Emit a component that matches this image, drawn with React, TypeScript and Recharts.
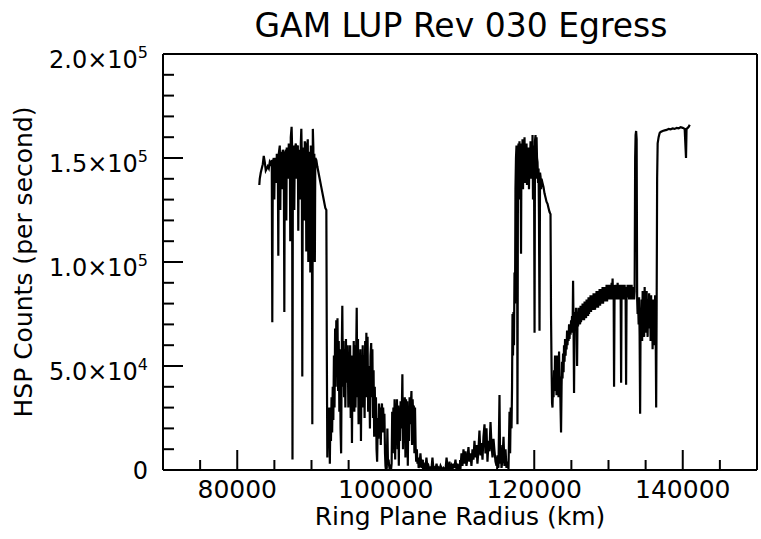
import React from "react";
import { LineChart, Line, XAxis, YAxis, ReferenceLine } from "recharts";

type Pt = [number, number];

// Ring plane radius (km), HSP counts (per second)
const ringInnerA: Pt[] = [
  [82970,137000],[83030,140000],[83170,143000],[83300,145000],[83440,147000],[83570,151000],[83710,148000],[83840,144000],[83980,145000],[84110,146000],[84250,145000],[84380,148000],[84520,147000],[84650,149000],[84720,71000],[84790,148000],[84920,150000],[84990,130000],[85060,150000],[85190,149000],[85260,138000],[85330,152000],[85460,150000],[85530,103000],[85590,152000],[85730,156000],[85800,125000],[85860,153000],[86000,150000],[86070,135000],[86130,154000],[86270,152000],[86340,76000],[86400,150000],[86540,154000],[86610,120000],[86670,155000],[86810,153000],[86880,140000],[86940,157000],[87080,155000],[87140,110000],[87210,160000],[87320,165000],[87390,155000],[87440,5000],[87490,153000],[87620,156000],[87680,125000],[87750,154000],[87890,157000],[87950,140000],[88020,155000],[88160,156000],[88220,115000],[88290,154000],[88430,152000],[88490,130000],[88560,157000],[88630,164000],[88700,150000],[88760,45000],[88830,155000],[88970,152000],[89030,120000],[89100,158000],[89240,155000],[89300,105000],[89370,154000],[89500,159000],[89570,100000],[89640,150000],[89770,153000],[89840,95000],[89910,156000],[90040,152000],[90110,22000],[90180,164000],[90250,155000],[90310,110000],[90380,152000],[90450,100000],[90510,150000],[90650,149000],[90780,146000],[91050,141000],[91320,136000],[91590,131000],[91860,126000],[92000,125000],[92060,60000],[92130,6000]
];

const ringInnerB: Pt[] = [
  [92220,25000],[92300,12000],[92400,30000],[92470,3000],[92530,22000],[92620,14000],[92700,35000],[92780,18000],[92860,40000],[92940,24000],[93020,55000],[93100,30000],[93180,68000],[93260,40000],[93340,72000],[93420,45000],[93500,73000],[93590,38000],[93670,62000],[93750,28000],[93830,58000],[93910,20000],[93990,8000],[94070,55000],[94150,79000],[94230,40000],[94310,62000],[94390,35000],[94480,58000],[94560,30000],[94640,63000],[94720,42000],[94800,58000],[94880,60000],[94960,30000],[95040,56000],[95120,40000],[95200,60000],[95280,25000],[95370,55000],[95450,13000],[95530,50000],[95610,35000],[95690,62000],[95770,28000],[95850,60000],[95930,30000],[96010,55000],[96090,78000],[96170,35000],[96260,63000],[96340,22000],[96420,52000],[96500,40000],[96580,58000],[96660,14000],[96740,50000],[96820,35000],[96900,60000],[96980,30000],[97060,55000],[97150,25000],[97230,62000],[97310,40000],[97390,66000],[97470,35000],[97550,64000],[97630,28000],[97710,50000],[97790,42000],[97870,20000],[97950,55000],[98040,61000],[98120,35000],[98200,58000],[98280,25000],[98360,48000],[98440,16000],[98520,40000],[98600,22000],[98680,35000],[98760,10000],[98840,4000],[98930,25000],[99010,15000],[99090,32000],[99170,20000],[99250,30000],[99330,12000],[99410,28000],[99490,32000],[99570,18000],[99650,30000],[99730,22000],[99820,27000],[99900,8000],[99980,2000],[100060,0],[100140,1000],[100220,20000],[100300,3000],[100380,5000],[100460,2000],[100540,0],[100620,1000],[100710,0],[100790,3000],[100870,28000],[100950,8000],[101030,30000],[101110,15000],[101190,34000],[101270,5000],[101350,32000],[101430,18000],[101510,34000],[101600,10000],[101680,31000],[101760,2000],[101840,30000],[101920,14000],[102000,33000],[102080,20000],[102160,28000],[102240,46000],[102320,10000],[102400,32000],[102490,22000],[102570,35000],[102650,6000],[102730,34000],[102810,18000],[102890,33000],[102970,2000],[103050,30000],[103130,14000],[103210,35000],[103290,22000],[103380,31000],[103460,38000],[103540,12000],[103620,34000],[103700,26000],[103780,31000],[103860,8000],[103940,30000],[104020,12000],[104100,4000],[104190,10000],[104270,3000],[104350,6000],[104430,1000],[104540,2000]
];

const cassiniDivision: Pt[] = [
  [104670,8000],[104810,1000],[104940,5000],[105080,0],[105210,2000],[105350,500],[105480,6000],[105620,1000],[105750,2000],[105890,0],[106020,1000],[106160,500],[106290,6000],[106430,0],[106560,1000],[106700,0],[106840,3000],[106970,0],[107110,1000],[107240,0],[107380,2000],[107510,1000],[107650,0],[107780,1000],[107920,500],[108050,0],[108190,6000],[108320,1000],[108460,0],[108580,4000],[108710,500],[108850,2000],[108980,0],[109120,3000],[109250,1000],[109390,5000],[109520,500],[109660,2000],[109790,1000],[109930,3000],[110060,500],[110200,8000],[110330,2000],[110470,10000],[110600,3000],[110740,9000],[110870,2000],[111010,6000],[111140,11000],[111270,4000],[111410,8000],[111540,2000],[111680,10000],[111810,5000],[111950,14000],[112080,6000],[112220,12000],[112350,3000],[112490,10000],[112620,19000],[112760,7000],[112890,13000],[113030,5000],[113160,16000],[113300,22000],[113430,8000],[113570,20000],[113700,4000],[113840,14000],[113970,9000],[114110,23000],[114240,12000],[114380,6000],[114510,15000],[114650,9000],[114780,4000],[114920,2000],[115050,7000],[115180,1000],[115320,36000],[115400,3000],[115480,12000],[115590,1000],[115720,5000],[115860,16000],[115990,2000],[116130,10000],[116260,1000],[116400,4000],[116530,500],[116670,28000],[116750,8000],[116830,30000],[116940,20000]
];

const ringInnerA2: Pt[] = [
  [117010,40000],[117070,75000],[117140,55000],[117200,76000],[117270,60000],[117340,95000],[117410,80000],[117470,135000],[117540,150000],[117610,156000],[117680,140000],[117740,22000],[117810,150000],[117880,157000],[117950,138000],[118010,158000],[118080,130000],[118150,155000],[118220,104000],[118280,157000],[118350,140000],[118420,159000],[118490,135000],[118550,156000],[118620,145000],[118690,160000],[118750,138000],[118820,154000],[118890,148000],[118960,157000],[119020,137000],[119090,150000],[119160,143000],[119230,155000],[119290,135000],[119360,152000],[119430,148000],[119500,158000],[119560,140000],[119630,157000],[119700,145000],[119770,161000],[119830,130000],[119900,156000],[119970,150000],[120040,66000],[120100,158000],[120170,161000],[120240,140000],[120310,160000],[120370,150000],[120440,148000],[120510,138000],[120580,145000],[120640,120000],[120710,67000],[120780,143000],[120850,141000],[120910,135000],[120980,140000],[121110,138000],[121250,136000],[121380,133000],[121520,131000],[121650,129000],[121790,128000],[121920,126000],[122060,124000],[122190,123000],[122260,74000],[122330,50000],[122400,32000]
];

const ringOuterA: Pt[] = [
  [122460,30000],[122530,42000],[122600,35000],[122670,48000],[122730,38000],[122800,55000],[122870,40000],[122940,46000],[123000,36000],[123070,55000],[123140,42000],[123210,50000],[123270,35000],[123340,57000],[123410,40000],[123470,45000],[123540,30000],[123610,18000],[123680,40000],[123740,52000],[123810,44000],[123880,56000],[123950,47000],[124010,60000],[124080,52000],[124150,63000],[124220,55000],[124280,62000],[124350,58000],[124420,67000],[124480,60000],[124550,66000],[124620,62000],[124690,70000],[124750,63000],[124820,68000],[124890,65000],[124960,72000],[125020,68000],[125090,74000],[125160,66000],[125230,91000],[125290,70000],[125360,37000],[125430,73000],[125500,76000],[125560,70000],[125630,78000],[125700,72000],[125770,50000],[125830,76000],[125900,69000],[125970,78000],[126030,71000],[126100,77000],[126170,70000],[126240,79000],[126300,71000],[126370,78000],[126440,72000],[126510,80000],[126570,73000],[126640,79000],[126710,72000],[126780,81000],[126840,74000],[126910,80000],[126980,73000],[127050,82000],[127110,75000],[127180,81000],[127250,74000],[127310,83000],[127380,75000],[127450,82000],[127520,76000],[127580,84000],[127650,76000],[127720,83000],[127790,77000],[127850,84000],[127920,77000],[127990,85000],[128060,78000],[128120,84000],[128190,77000],[128260,85000],[128330,78000],[128390,86000],[128460,79000],[128530,85000],[128600,78000],[128660,86000],[128730,79000],[128800,87000],[128870,79000],[128930,86000],[129000,80000],[129070,87000],[129140,80000],[129200,88000],[129270,80000],[129340,87000],[129410,81000],[129470,88000],[129540,81000],[129610,87000],[129680,81000],[129740,89000],[129810,81000],[129880,88000],[129950,82000],[130010,89000],[130080,82000],[130150,88000],[130210,82000],[130280,89000],[130350,83000],[130420,90000],[130480,82000],[130550,92000],[130620,83000],[130690,89000],[130750,40000],[130820,88000],[130890,82000],[130960,89000],[131020,83000],[131090,88000],[131160,82000],[131230,90000],[131290,83000],[131360,89000],[131430,82000],[131490,88000],[131560,83000],[131630,89000],[131700,42000],[131760,88000],[131830,82000],[131900,89000],[131970,83000],[132030,88000],[132100,82000],[132170,89000],[132240,83000],[132300,88000],[132370,41000],[132440,88000],[132510,83000],[132570,89000],[132640,83000],[132710,88000],[132780,82000],[132840,89000],[132910,83000],[132980,88000],[133050,82000],[133110,89000],[133180,83000],[133250,88000],[133320,82000],[133380,87000],[133450,82000],[133520,86000],[133590,150000],[133650,161000],[133720,163000],[133790,159000],[133860,82000],[133920,75000],[133990,80000],[134060,70000],[134120,83000],[134190,65000],[134260,27000],[134330,78000],[134390,68000],[134460,82000],[134530,62000],[134600,86000],[134660,72000],[134730,80000],[134800,64000],[134870,88000],[134930,70000],[135000,83000],[135070,66000],[135140,86000],[135200,72000],[135270,64000],[135340,82000],[135410,68000],[135470,85000],[135540,70000],[135610,80000],[135670,62000],[135740,84000],[135810,65000],[135880,78000],[135940,58000],[136010,82000],[136080,66000],[136150,80000],[136210,60000],[136280,84000],[136350,70000],[136420,30000],[136480,75000]
];

const beyondRings: Pt[] = [
  [136550,140000],[136620,157000],[136750,160000],[136890,162000],[137020,162500],[137290,163000],[137560,163300],[137830,163500],[138100,164000],[138370,163800],[138640,164200],[138910,164000],[139180,164500],[139450,164300],[139720,164800],[139990,164500],[140260,164000],[140440,150000],[140510,164000],[140670,164500],[140800,165000],[140940,166000]
];

const xTicks = [70000, 75000, 80000, 85000, 90000, 95000, 100000, 105000, 110000, 115000, 120000, 125000, 130000, 135000, 140000, 145000, 150000];
const xTickLabels: Record<number, string> = { 80000: "80000", 100000: "100000", 120000: "120000", 140000: "140000" };
const yTicks = [0, 10000, 20000, 30000, 40000, 50000, 60000, 70000, 80000, 90000, 100000, 110000, 120000, 130000, 140000, 150000, 160000, 170000, 180000, 190000, 200000];
const yTickLabels: Record<number, [string, string]> = {
  0: ["0", ""],
  50000: ["5.0×10", "4"],
  100000: ["1.0×10", "5"],
  150000: ["1.5×10", "5"],
  200000: ["2.0×10", "5"],
};
const xMax = 150000;
const yMax = 200000;

const title = "GAM LUP Rev 030 Egress";
const xTitle = "Ring Plane Radius (km)";
const yTitle = "HSP Counts (per second)";

const data = [ringInnerA, ringInnerB, cassiniDivision, ringInnerA2, ringOuterA, beyondRings]
  .flat()
  .map(([r, c]) => ({ r, c }));

const FONT = "DejaVu Sans";
const W = 761;
const H = 539;

const BottomTick = (p: any) => {
  const v = p.payload.value;
  const len = v % 20000 === 0 ? 20 : 10;
  return (
    <g>
      <line x1={p.x} x2={p.x} y1={p.y} y2={p.y - len} stroke="#000" strokeWidth={2} />
      {xTickLabels[v] ? (
        <text x={p.x} y={p.y + 28} textAnchor="middle" fontSize={25} fontFamily={FONT} fill="#000">
          {xTickLabels[v]}
        </text>
      ) : null}
    </g>
  );
};

const TopTick = (p: any) => {
  const v = p.payload.value;
  const len = v % 20000 === 0 ? 21 : 11;
  return <line x1={p.x} x2={p.x} y1={p.y} y2={p.y + len} stroke="#000" strokeWidth={2} />;
};

const LeftTick = (p: any) => {
  const v = p.payload.value;
  const len = v % 50000 === 0 ? 20 : 11;
  const lab = yTickLabels[v];
  return (
    <g>
      <line x1={p.x} x2={p.x + len} y1={p.y} y2={p.y} stroke="#000" strokeWidth={2} />
      {lab ? (
        <text
          x={p.x - 15}
          y={p.y + (lab[1] ? 13.5 : 9)}
          textAnchor="end"
          fontSize={24}
          fontFamily={FONT}
          fill="#000"
        >
          {lab[0]}
          {lab[1] ? (
            <tspan fontSize={16} dy={-10}>
              {lab[1]}
            </tspan>
          ) : null}
        </text>
      ) : null}
    </g>
  );
};

const RightTick = (p: any) => {
  const v = p.payload.value;
  const len = v % 50000 === 0 ? 20 : 11;
  return <line x1={p.x} x2={p.x - len} y1={p.y} y2={p.y} stroke="#000" strokeWidth={2} />;
};

export default function App() {
  return (
    <div style={{ position: "absolute", left: 0, top: 0, width: W, height: H, background: "#fff" }}>
      <LineChart width={W} height={H} data={data} margin={{ top: 54, right: 4, bottom: 0, left: 0 }}>
        <XAxis
          xAxisId="b"
          type="number"
          dataKey="r"
          domain={[70000, xMax]}
          allowDataOverflow
          ticks={xTicks}
          interval={0}
          height={69}
          tickSize={0}
          tickMargin={0}
          tick={BottomTick}
          axisLine={{ stroke: "#000", strokeWidth: 2 }}
          tickLine={false}
        />
        <XAxis
          xAxisId="t"
          orientation="top"
          type="number"
          dataKey="r"
          domain={[70000, xMax]}
          allowDataOverflow
          ticks={xTicks}
          interval={0}
          height={0}
          tickSize={0}
          tickMargin={0}
          tick={TopTick}
          axisLine={false}
          tickLine={false}
        />
        <YAxis
          yAxisId="l"
          type="number"
          domain={[0, yMax]}
          allowDataOverflow
          ticks={yTicks}
          interval={0}
          width={163}
          tickSize={0}
          tickMargin={0}
          tick={LeftTick}
          axisLine={{ stroke: "#000", strokeWidth: 2 }}
          tickLine={false}
        />
        <YAxis
          yAxisId="r"
          orientation="right"
          type="number"
          domain={[0, yMax]}
          allowDataOverflow
          ticks={yTicks}
          interval={0}
          width={0}
          tickSize={0}
          tickMargin={0}
          tick={RightTick}
          axisLine={false}
          tickLine={false}
        />
        <ReferenceLine xAxisId="b" yAxisId="l" y={yMax} stroke="#000" strokeWidth={2} ifOverflow="visible" />
        <ReferenceLine xAxisId="b" yAxisId="l" x={xMax} stroke="#000" strokeWidth={2} ifOverflow="visible" />
        <Line
          xAxisId="b"
          yAxisId="l"
          type="linear"
          dataKey="c"
          stroke="#000"
          strokeWidth={2.2}
          strokeLinejoin="miter"
          dot={false}
          isAnimationActive={false}
        />
      </LineChart>
      <svg
        width={W}
        height={H}
        style={{ position: "absolute", left: 0, top: 0, pointerEvents: "none" }}
      >
        <text x={461} y={37} textAnchor="middle" fontSize={33} fontFamily={FONT} fill="#000">
          {title}
        </text>
        <text x={460} y={525} textAnchor="middle" fontSize={25} fontFamily={FONT} fill="#000">
          {xTitle}
        </text>
        <text
          x={32}
          y={262}
          transform="rotate(-90 32 262)"
          textAnchor="middle"
          fontSize={25}
          fontFamily={FONT}
          fill="#000"
        >
          {yTitle}
        </text>
      </svg>
    </div>
  );
}
